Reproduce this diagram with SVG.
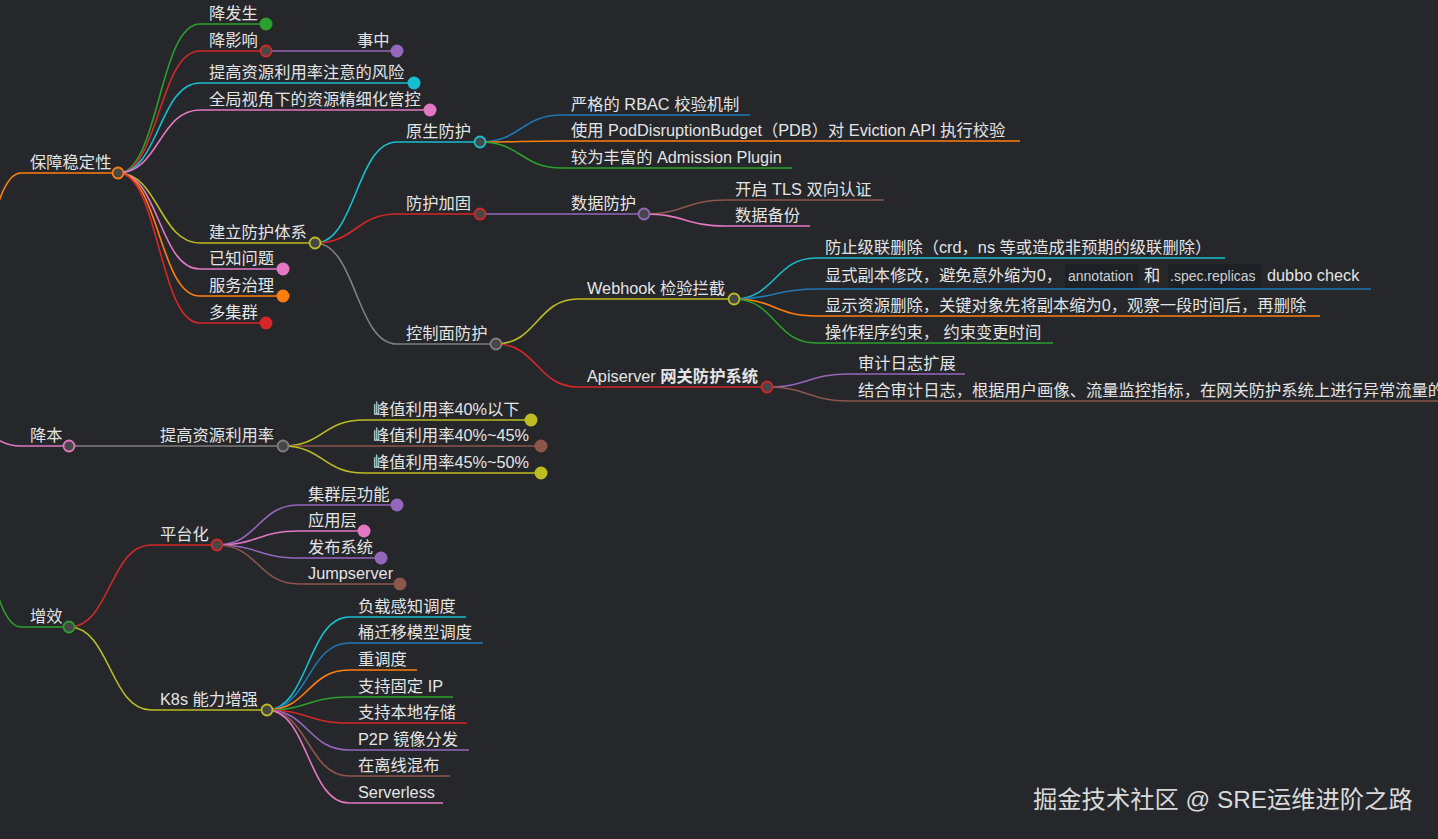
<svg xmlns="http://www.w3.org/2000/svg" width="1438" height="839" viewBox="0 0 1438 839">
<style>
.l{fill:none;stroke-width:1.6}
.t{font-family:"Liberation Sans","Noto Sans CJK SC",sans-serif;font-size:16.3px;fill:#e4e4e4}
.bd{font-weight:bold}
.dk{stroke-width:1.8;fill:#474747}
.b{stroke:#1f77b4}.o{stroke:#ff7f0e}.g{stroke:#2ca02c}.r{stroke:#d62728}.p{stroke:#9467bd}.n{stroke:#8c564b}.k{stroke:#e377c2}.y{stroke:#7f7f7f}.v{stroke:#bcbd22}.c{stroke:#17becf}
.fb{fill:#1f77b4}.fo{fill:#ff7f0e}.fg{fill:#2ca02c}.fr{fill:#d62728}.fp{fill:#9467bd}.fn{fill:#8c564b}.fk{fill:#e377c2}.fv{fill:#bcbd22}.fc{fill:#17becf}
.code{fill:#1d2025}
.ct{font-family:"Liberation Sans","Noto Sans CJK SC",sans-serif;font-size:14px;fill:#d0d0d0}
.wm{font-family:"Liberation Sans","Noto Sans CJK SC",sans-serif;font-size:24.3px;fill:#d9d9d9}
</style>
<rect width="1438" height="839" fill="#25272b"/>
<g id="connectors">
<path class="l o" d="M-61,400 C-20,400 -20,173 21,173"/>
<path class="l k" d="M-61,400 C-20,400 -20,446 21,446"/>
<path class="l g" d="M-61,400 C-20,400 -20,627 21,627"/>
<path class="l g" d="M118,173 C159,173 159,24 200,24"/>
<path class="l r" d="M118,173 C159,173 159,51 200,51"/>
<path class="l c" d="M118,173 C159,173 159,83 200,83"/>
<path class="l k" d="M118,173 C159,173 159,110 200,110"/>
<path class="l v" d="M118,173 C159,173 159,243 200,243"/>
<path class="l k" d="M118,173 C159,173 159,269 200,269"/>
<path class="l o" d="M118,173 C159,173 159,296 200,296"/>
<path class="l r" d="M118,173 C159,173 159,323 200,323"/>
<path class="l p" d="M266,51 L348,51"/>
<path class="l c" d="M315,243 C356,243 356,142 397,142"/>
<path class="l r" d="M315,243 C356,243 356,214 397,214"/>
<path class="l y" d="M315,243 C356,243 356,344 397,344"/>
<path class="l b" d="M480,142 C521,142 521,115 562,115"/>
<path class="l o" d="M480,142 C521,142 521,141 562,141"/>
<path class="l g" d="M480,142 C521,142 521,168 562,168"/>
<path class="l p" d="M480,214 L562,214"/>
<path class="l n" d="M644,214 C685,214 685,200 726,200"/>
<path class="l k" d="M644,214 C685,214 685,226 726,226"/>
<path class="l v" d="M496,344 C537,344 537,299 578,299"/>
<path class="l r" d="M496,344 C537,344 537,387 578,387"/>
<path class="l c" d="M734,299 C775,299 775,258 816,258"/>
<path class="l b" d="M734,299 C775,299 775,289 816,289"/>
<path class="l o" d="M734,299 C775,299 775,316 816,316"/>
<path class="l g" d="M734,299 C775,299 775,343 816,343"/>
<path class="l p" d="M767,387 C808,387 808,374 849,374"/>
<path class="l n" d="M767,387 C808,387 808,401 849,401"/>
<path class="l y" d="M69,446 L151,446"/>
<path class="l v" d="M283,446 C323,446 323,420 364,420"/>
<path class="l n" d="M283,446 L364,446"/>
<path class="l v" d="M283,446 C323,446 323,473 364,473"/>
<path class="l r" d="M69,627 C110,627 110,545 151,545"/>
<path class="l v" d="M69,627 C110,627 110,710 151,710"/>
<path class="l p" d="M217,545 C258,545 258,505 299,505"/>
<path class="l k" d="M217,545 C258,545 258,531 299,531"/>
<path class="l p" d="M217,545 C258,545 258,558 299,558"/>
<path class="l n" d="M217,545 C258,545 258,584 299,584"/>
<path class="l c" d="M267,710 C308,710 308,617 349,617"/>
<path class="l b" d="M267,710 C308,710 308,643 349,643"/>
<path class="l o" d="M267,710 C308,710 308,670 349,670"/>
<path class="l g" d="M267,710 C308,710 308,697 349,697"/>
<path class="l r" d="M267,710 C308,710 308,723 349,723"/>
<path class="l p" d="M267,710 C308,710 308,750 349,750"/>
<path class="l n" d="M267,710 C308,710 308,776 349,776"/>
<path class="l k" d="M267,710 C308,710 308,803 349,803"/>
</g>

<g id="n-baozhang"><path class="l o" d="M21,173 H118"/><text class="t" x="30" y="168">保障稳定性</text><circle class="dk o" cx="118" cy="173" r="5.5"/></g>
<g id="n-jiangfasheng"><path class="l g" d="M200,24 H266"/><text class="t" x="209" y="19">降发生</text><circle class="fg" cx="266" cy="24" r="6.5"/></g>
<g id="n-jiangyingxiang"><path class="l r" d="M200,51 H266"/><text class="t" x="209" y="46">降影响</text><circle class="dk r" cx="266" cy="51" r="5.5"/></g>
<g id="n-shizhong"><path class="l p" d="M348,51 H397"/><text class="t" x="357" y="46">事中</text><circle class="fp" cx="397" cy="51" r="6.5"/></g>
<g id="n-fengxian"><path class="l c" d="M200,83 H414"/><text class="t" x="209" y="78">提高资源利用率注意的风险</text><circle class="fc" cx="414" cy="83" r="6.5"/></g>
<g id="n-quanju"><path class="l k" d="M200,110 H430"/><text class="t" x="209" y="105">全局视角下的资源精细化管控</text><circle class="fk" cx="430" cy="110" r="6.5"/></g>
<g id="n-jianli"><path class="l v" d="M200,243 H315"/><text class="t" x="209" y="238">建立防护体系</text><circle class="dk v" cx="315" cy="243" r="5.5"/></g>
<g id="n-yizhi"><path class="l k" d="M200,269 H283"/><text class="t" x="209" y="264">已知问题</text><circle class="fk" cx="283" cy="269" r="6.5"/></g>
<g id="n-fuwu"><path class="l o" d="M200,296 H283"/><text class="t" x="209" y="291">服务治理</text><circle class="fo" cx="283" cy="296" r="6.5"/></g>
<g id="n-duojiqun"><path class="l r" d="M200,323 H266"/><text class="t" x="209" y="318">多集群</text><circle class="fr" cx="266" cy="323" r="6.5"/></g>

<g id="n-yuansheng"><path class="l c" d="M397,142 H480"/><text class="t" x="406" y="137">原生防护</text><circle class="dk c" cx="480" cy="142" r="5.5"/></g>
<g id="n-rbac"><path class="l b" d="M562,115 H750"/><text class="t" x="571" y="110">严格的 RBAC 校验机制</text></g>
<g id="n-pdb"><path class="l o" d="M562,141 H1020"/><text class="t" x="571" y="136">使用 PodDisruptionBudget（PDB）对 Eviction API 执行校验</text></g>
<g id="n-admission"><path class="l g" d="M562,168 H792"/><text class="t" x="571" y="163">较为丰富的 Admission Plugin</text></g>
<g id="n-jiagu"><path class="l r" d="M397,214 H480"/><text class="t" x="406" y="209">防护加固</text><circle class="dk r" cx="480" cy="214" r="5.5"/></g>
<g id="n-shuju"><path class="l p" d="M562,214 H644"/><text class="t" x="571" y="209">数据防护</text><circle class="dk p" cx="644" cy="214" r="5.5"/></g>
<g id="n-tls"><path class="l n" d="M726,200 H884"/><text class="t" x="735" y="195">开启 TLS 双向认证</text></g>
<g id="n-beifen"><path class="l k" d="M726,226 H810"/><text class="t" x="735" y="221">数据备份</text></g>
<g id="n-kongzhi"><path class="l y" d="M397,344 H496"/><text class="t" x="406" y="339">控制面防护</text><circle class="dk y" cx="496" cy="344" r="5.5"/></g>
<g id="n-webhook"><path class="l v" d="M578,299 H734"/><text class="t" x="587" y="294">Webhook 检验拦截</text><circle class="dk v" cx="734" cy="299" r="5.5"/></g>
<g id="n-jilian"><path class="l c" d="M816,258 H1225"/><text class="t" x="825" y="253">防止级联删除（crd，ns 等或造成非预期的级联删除）</text></g>
<g id="n-xianshi"><path class="l b" d="M816,289 H1371"/><text class="t" x="825" y="281">显式副本修改，避免意外缩为0，</text><rect class="code" x="1065" y="264" width="74" height="24" rx="2"/><text class="ct" x="1068" y="281">annotation</text><text class="t" x="1144" y="281">和</text><rect class="code" x="1168" y="264" width="93" height="24" rx="2"/><text class="ct" x="1170" y="281">.spec.replicas</text><text class="t" x="1267" y="281">dubbo check</text></g>
<g id="n-shanchu"><path class="l o" d="M816,316 H1320"/><text class="t" x="825" y="311">显示资源删除，关键对象先将副本缩为0，观察一段时间后，再删除</text></g>
<g id="n-caozuo"><path class="l g" d="M816,343 H1053"/><text class="t" x="825" y="338">操作程序约束， 约束变更时间</text></g>
<g id="n-apiserver"><path class="l r" d="M578,387 H767"/><text class="t" x="587" y="382">Apiserver <tspan class="bd">网关防护系统</tspan></text><circle class="dk r" cx="767" cy="387" r="5.5"/></g>
<g id="n-shenji"><path class="l p" d="M849,374 H965"/><text class="t" x="858" y="369">审计日志扩展</text></g>
<g id="n-jiehe"><path class="l n" d="M849,401 H1460"/><text class="t" x="858" y="396">结合审计日志，根据用户画像、流量监控指标，在网关防护系统上进行异常流量的</text></g>

<g id="n-jiangben"><path class="l k" d="M21,446 H69"/><text class="t" x="30" y="441">降本</text><circle class="dk k" cx="69" cy="446" r="5.5"/></g>
<g id="n-tigao"><path class="l y" d="M151,446 H283"/><text class="t" x="160" y="441">提高资源利用率</text><circle class="dk y" cx="283" cy="446" r="5.5"/></g>
<g id="n-fz40"><path class="l v" d="M364,420 H531"/><text class="t" x="373" y="415">峰值利用率40%以下</text><circle class="fv" cx="531" cy="420" r="6.5"/></g>
<g id="n-fz45"><path class="l n" d="M364,446 H541"/><text class="t" x="373" y="441">峰值利用率40%~45%</text><circle class="fn" cx="541" cy="446" r="6.5"/></g>
<g id="n-fz50"><path class="l v" d="M364,473 H541"/><text class="t" x="373" y="468">峰值利用率45%~50%</text><circle class="fv" cx="541" cy="473" r="6.5"/></g>

<g id="n-zengxiao"><path class="l g" d="M21,627 H69"/><text class="t" x="30" y="622">增效</text><circle class="dk g" cx="69" cy="627" r="5.5"/></g>
<g id="n-pingtai"><path class="l r" d="M151,545 H217"/><text class="t" x="160" y="540">平台化</text><circle class="dk r" cx="217" cy="545" r="5.5"/></g>
<g id="n-jiqunceng"><path class="l p" d="M299,505 H397"/><text class="t" x="308" y="500">集群层功能</text><circle class="fp" cx="397" cy="505" r="6.5"/></g>
<g id="n-yingyong"><path class="l k" d="M299,531 H364"/><text class="t" x="308" y="526">应用层</text><circle class="fk" cx="364" cy="531" r="6.5"/></g>
<g id="n-fabu"><path class="l p" d="M299,558 H381"/><text class="t" x="308" y="553">发布系统</text><circle class="fp" cx="381" cy="558" r="6.5"/></g>
<g id="n-jump"><path class="l n" d="M299,584 H400"/><text class="t" x="308" y="579">Jumpserver</text><circle class="fn" cx="400" cy="584" r="6.5"/></g>
<g id="n-k8s"><path class="l v" d="M151,710 H267"/><text class="t" x="160" y="705">K8s 能力增强</text><circle class="dk v" cx="267" cy="710" r="5.5"/></g>
<g id="n-fuzai"><path class="l c" d="M349,617 H466"/><text class="t" x="358" y="612">负载感知调度</text></g>
<g id="n-tong"><path class="l b" d="M349,643 H483"/><text class="t" x="358" y="638">桶迁移模型调度</text></g>
<g id="n-chong"><path class="l o" d="M349,670 H417"/><text class="t" x="358" y="665">重调度</text></g>
<g id="n-ip"><path class="l g" d="M349,697 H453"/><text class="t" x="358" y="692">支持固定 IP</text></g>
<g id="n-bendi"><path class="l r" d="M349,723 H467"/><text class="t" x="358" y="718">支持本地存储</text></g>
<g id="n-p2p"><path class="l p" d="M349,750 H469"/><text class="t" x="358" y="745">P2P 镜像分发</text></g>
<g id="n-hunbu"><path class="l n" d="M349,776 H450"/><text class="t" x="358" y="771">在离线混布</text></g>
<g id="n-serverless"><path class="l k" d="M349,803 H443"/><text class="t" x="358" y="798">Serverless</text></g>

<text class="wm" x="1033" y="808">掘金技术社区 @ SRE运维进阶之路</text>
</svg>
